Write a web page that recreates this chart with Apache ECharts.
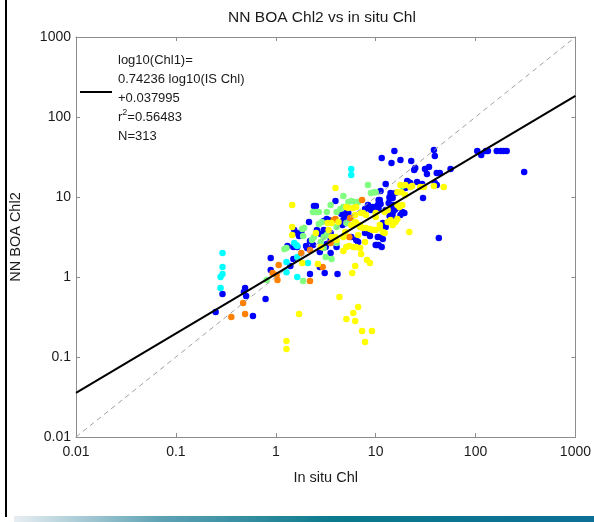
<!DOCTYPE html>
<html><head><meta charset="utf-8">
<script src="https://cdn.jsdelivr.net/npm/echarts@6/dist/echarts.min.js"></script>
<style>html,body{margin:0;padding:0;background:#fff}#c{width:594px;height:522px}</style>
</head><body><div id="c"></div>
<script>
const titleText = 'NN BOA Chl2 vs in situ Chl';
const xName = 'In situ Chl';
const yName = 'NN BOA Chl2';
const tickLabels = ['0.01','0.1','1','10','100','1000'];
const legendLines = ['log10(Chl1)=','0.74236 log10(IS Chl)','+0.037995','r2=0.56483','N=313'];
const oneToOne = [[0.01,0.01],[1000,1000]];
const fitLine = [[0.01,0.0357],[1000,184.1]];

const blueData = [[0.25,0.365],[0.293,0.613],[0.493,0.729],[0.48,0.649],[0.505,0.579],[0.79,0.531],[0.591,0.326],[0.89,1.73],[0.89,1.22],[1.31,2.44],[1.40,1.37],[1.50,1.68],[2.20,1.09],[3.09,1.12],[4.15,1.09],[1.53,3.87],[1.60,3.55],[1.71,3.25],[1.80,3.65],[2.15,4.87],[2.01,2.44],[1.64,2.37],[1.50,2.37],[2.06,2.30],[2.20,2.82],[2.36,2.51],[2.58,3.87],[2.82,3.45],[3.02,3.25],[2.52,7.72],[2.76,2.05],[2.76,1.33],[2.41,7.72],[3.54,2.00],[4.06,2.37],[10.3,2.51],[15.4,37.6],[11.5,30.7],[14.4,26.6],[17.7,29.0],[22.7,28.2],[12.6,14.5],[11.2,11.9],[3.96,8.91],[14.4,10.9],[15.8,11.2],[13.8,9.7],[7.83,7.08],[8.38,7.94],[11.0,8.66],[10.7,7.29],[5.32,6.31],[4.54,6.13],[13.8,5.79],[12.6,6.88],[17.7,5.96],[3.24,5.31],[4.44,4.87],[4.75,5.16],[5.57,5.46],[3.02,3.87],[3.54,3.55],[3.96,3.07],[7.83,3.55],[8.38,3.87],[11.8,4.73],[12.6,4.22],[11.2,3.16],[11.8,2.99],[5.70,3.16],[6.38,2.90],[6.68,2.74],[21.2,15.4],[19.8,13.0],[21.7,15.0],[9.38,7.50],[8.97,6.88],[10.5,7.94],[10.7,9.17],[5.09,6.31],[4.86,5.79],[13.5,8.41],[15.8,7.08],[14.8,6.31],[3.38,5.16],[3.02,5.01],[5.09,4.73],[4.65,4.47],[14.8,5.62],[15.8,5.16],[8.77,3.25],[10.5,3.16],[10.7,2.51],[11.5,2.37],[3.16,2.37],[3.24,2.58],[3.54,2.90],[38.3,38.7],[39.1,32.5],[104,37.6],[114,33.5],[127,37.6],[133,37.6],[163,37.6],[179,37.6],[191,37.6],[205,37.6],[307,20.5],[24.3,21.8],[24.9,23.0],[31.2,22.4],[34.2,23.7],[32.6,19.4],[40.9,20.0],[43.9,20.0],[56.2,22.4],[20.7,15.8],[22.2,15.0],[26.0,15.4],[29.2,14.5],[39.1,15.0],[40.9,14.1],[29.8,9.7],[14.1,11.2],[13.8,10.0],[14.8,9.7],[11.0,9.17],[11.2,8.18],[10.5,7.29],[14.8,7.94],[14.1,6.88],[15.4,6.88],[18.5,6.49],[19.4,6.31],[14.1,5.31],[11.8,4.10],[10.0,2.51],[42.9,3.07]];
const cyanData = [[0.293,2.00],[0.293,1.33],[0.293,1.09],[0.28,1.00],[0.28,0.729],[1.28,1.54],[1.28,1.15],[1.64,1.00],[1.64,1.78],[1.53,2.66],[1.64,2.44],[2.10,1.50],[5.70,22.4],[5.70,18.8],[1.60,2.51]];
const greenData = [[0.81,0.917],[1.88,0.891],[1.92,4.10],[1.88,3.25],[2.30,2.90],[1.22,2.24],[1.28,2.30],[8.38,14.1],[9.60,11.5],[8.97,11.2],[4.75,10.3],[6.24,8.66],[5.70,8.91],[5.32,8.66],[4.75,7.50],[4.44,7.08],[2.52,6.49],[2.70,6.49],[4.06,6.49],[2.89,4.87],[2.70,4.60],[5.09,4.73],[4.06,4.22],[1.84,3.98],[3.24,3.35],[3.02,3.16],[3.02,2.30],[3.62,1.68],[3.16,1.78],[2.36,6.49],[3.54,7.94],[3.24,6.49],[2.41,3.16],[2.82,2.74],[4.06,2.66],[18.5,13.7],[10.0,11.5],[6.68,8.66]];
const orangeData = [[0.359,0.316],[0.493,0.345],[0.471,0.473],[1.07,1.41],[0.93,1.12],[1.02,1.06],[1.04,0.917],[1.80,2.00],[2.20,2.18],[2.20,0.891],[2.95,1.33],[3.79,5.16],[5.57,5.46],[7.31,9.17],[5.45,3.16],[3.96,5.31],[3.54,2.66]];
const yellowData = [[1.46,4.22],[1.46,3.35],[1.84,1.50],[1.71,0.345],[1.28,0.158],[1.28,0.126],[3.96,13.0],[1.46,7.94],[6.38,7.50],[5.97,7.29],[7.48,6.31],[10.0,6.31],[3.62,4.73],[6.24,4.87],[5.70,4.47],[2.52,3.55],[3.38,3.87],[3.62,3.16],[6.99,4.22],[7.48,4.10],[8.77,3.98],[10.0,3.87],[11.8,3.65],[11.0,4.10],[14.1,5.16],[15.8,4.87],[16.5,5.31],[12.3,3.55],[4.75,3.16],[2.82,2.37],[5.45,2.44],[5.97,2.37],[6.99,2.30],[7.15,1.94],[4.75,2.11],[8.19,1.63],[8.77,1.50],[6.24,1.37],[5.83,1.12],[4.34,0.562],[6.68,0.422],[5.97,0.355],[6.24,0.282],[5.09,0.299],[7.31,0.211],[9.18,0.211],[7.83,0.154],[2.64,1.45],[5.09,7.50],[5.32,7.29],[6.24,5.96],[7.15,6.31],[8.00,5.96],[18.5,7.94],[19.8,10.6],[18.1,11.5],[16.5,11.5],[3.31,4.73],[4.25,4.87],[6.38,4.73],[6.99,4.47],[13.2,4.87],[14.8,4.47],[21.7,3.65],[3.96,3.16],[4.06,2.90],[8.00,4.10],[9.38,3.87],[4.97,3.65],[6.68,3.35],[7.83,2.74],[5.09,2.37],[6.38,2.37],[19.8,14.1],[22.2,13.3],[30.5,13.3],[38.3,13.7],[48.0,13.3],[27.9,13.3],[23.2,13.7],[17.7,14.1],[16.5,7.94],[17.3,7.50],[12.3,6.49],[13.2,6.88],[11.0,4.47],[10.0,5.62]];

const FONT = '"Liberation Sans", Arial, sans-serif';
const AX = '#8c8c8c';
const fmt = v => tickLabels[Math.round(Math.log10(v)) + 2];
function logAxis(extra) {
  return Object.assign({
    type: 'log', logBase: 10, min: 0.01, max: 1000,
    axisLine: { show: true, lineStyle: { color: AX, width: 1 } },
    axisTick: { show: true, inside: true, length: 4, lineStyle: { color: AX } },
    minorTick: { show: false },
    splitLine: { show: false },
    axisLabel: { show: true, formatter: fmt, color: '#1a1a1a', fontSize: 14, fontFamily: FONT }
  }, extra);
}
const chart = echarts.init(document.getElementById('c'), null, { renderer: 'canvas' });
const scatter = (data, color) => ({
  type: 'scatter', data, symbolSize: 6.5, symbol: 'circle',
  itemStyle: { color, opacity: 1 }, silent: true, animation: false
});
const legendRich = {
  t: { fontSize: 13, fontFamily: FONT, color: '#1a1a1a', lineHeight: 19 },
  sup: { fontSize: 9, fontFamily: FONT, color: '#1a1a1a', verticalAlign: 'top', padding: [0,0,6,0] }
};
chart.setOption({
  animation: false,
  backgroundColor: '#fff',
  grid: { left: 68, right: 18, top: 37, bottom: 85, containLabel: false },
  xAxis: [
    logAxis({ position: 'bottom', name: xName, nameLocation: 'middle', nameGap: 33,
      nameTextStyle: { fontSize: 14.5, fontFamily: FONT, color: '#1a1a1a' },
      axisLabel: { show: true, formatter: fmt, color: '#1a1a1a', fontSize: 14, fontFamily: FONT, margin: 8 } }),
    logAxis({ position: 'top', axisLabel: { show: false } })
  ],
  yAxis: [
    logAxis({ position: 'left', name: yName, nameLocation: 'middle', nameGap: 53, nameRotate: 90,
      nameTextStyle: { fontSize: 14.5, fontFamily: FONT, color: '#1a1a1a' },
      axisLabel: { show: true, formatter: fmt, color: '#1a1a1a', fontSize: 14, fontFamily: FONT, margin: 5 } }),
    logAxis({ position: 'right', axisLabel: { show: false } })
  ],
  series: [
    scatter(blueData, '#0000ff'),
    scatter(greenData, '#80ff80'),
    scatter(cyanData, '#00ffff'),
    scatter(orangeData, '#ff8000'),
    scatter(yellowData, '#ffff00'),
    { type: 'line', data: oneToOne, symbol: 'none', silent: true, z: 5,
      lineStyle: { color: '#a0a0a0', width: 1, type: [5, 4] } },
    { type: 'line', data: fitLine, symbol: 'none', silent: true, z: 6,
      lineStyle: { color: '#000', width: 2 } }
  ],
  graphic: [
    { type: 'text', x: 322, y: 18, z: 10, style: { text: titleText, fontSize: 15.5, fontFamily: FONT, fill: '#1a1a1a', align: 'center', verticalAlign: 'middle' } },
    { type: 'line', shape: { x1: 80, y1: 92, x2: 112, y2: 92 }, style: { stroke: '#000', lineWidth: 2 }, z: 10 },
    { type: 'text', x: 118, y: 51, z: 10, style: {
      text: legendLines.slice(0,3).map(s => '{t|' + s + '}').join('\n') + '\n{t|r}{sup|2}{t|' + legendLines[3].slice(2) + '}\n{t|' + legendLines[4] + '}',
      rich: legendRich, fontFamily: FONT, fontSize: 13, fill: '#1a1a1a' } },
    { type: 'rect', shape: { x: 5, y: 0, width: 2, height: 517 }, style: { fill: '#000' }, z: 10 },
    { type: 'rect', shape: { x: 14, y: 516, width: 580, height: 6 }, z: 10,
      style: { fill: new echarts.graphic.LinearGradient(0, 0, 1, 0, [
        { offset: 0, color: '#e8eef2' }, { offset: 0.25, color: '#5fa3b5' },
        { offset: 0.55, color: '#0a7a8c' }, { offset: 1, color: '#0d6f96' }]) } }
  ]
});
</script></body></html>
